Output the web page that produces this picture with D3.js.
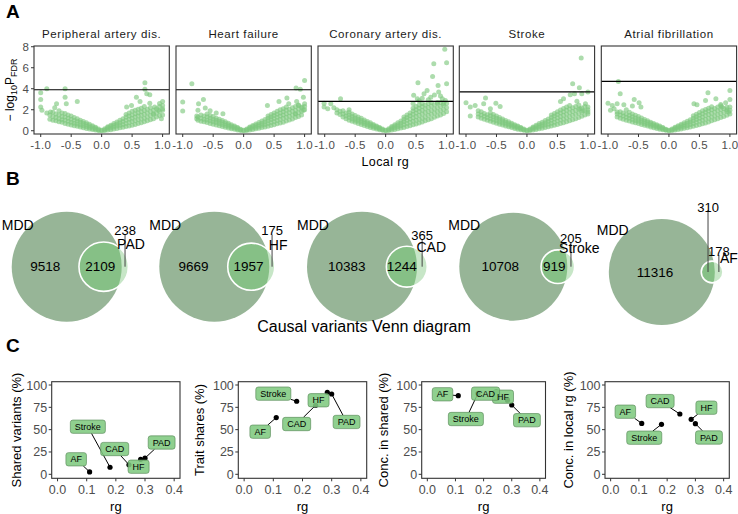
<!DOCTYPE html>
<html><head><meta charset="utf-8">
<script src="https://cdn.jsdelivr.net/npm/d3@7/dist/d3.min.js"></script>
<style>body{margin:0;background:#fff}svg{display:block}</style>
</head><body>
<svg id="c" width="738" height="514"></svg>
<script>
// ---------------- DATA ----------------
// Panel A: local genetic correlation volcano plots
const facetNames = ["Peripheral artery dis.","Heart failure","Coronary artery dis.","Stroke","Atrial fibrillation"];
const fdrLine = [3.9, 3.9, 2.8, 3.7, 4.7];
const xTicksA = [-1.0,-0.5,0.0,0.5,1.0];
const yTicksA = [0,2,4,6,8];

const outPAD = [[-0.9,4.0],[-0.6,4.0],[0.71,4.57],[0.71,3.94],[0.74,3.52],[0.79,3.43],[-1.0,3.62],[-1.0,2.98],[-1.0,2.25],[-0.98,1.94],[-0.6,3.2],[-0.58,2.57],[-0.4,2.79],[-0.74,2.57],[-0.84,1.78],[-0.9,1.68],[0.57,3.2],[0.63,2.79],[0.49,2.41],[0.41,2.25],[1.0,2.79],[1.0,2.41],[1.0,1.94],[0.87,2.25],[0.79,2.63],[0.93,1.94],[0.85,1.62],[0.98,1.14],[-0.77,2.2],[-0.7,1.9],[0.95,2.6]];
const bandPAD = [[-0.85,[1.1,1.5]],[-0.8,[1.0,1.35,1.75]],[-0.75,[0.95,1.25,1.6]],[-0.7,[0.85,1.15,1.5]],[-0.65,[0.8,1.05,1.35,1.7]],[-0.6,[0.7,1.0,1.3,1.65]],[-0.55,[0.62,0.9,1.2,1.5]],[-0.5,[0.55,0.8,1.1,1.4]],[-0.45,[0.48,0.72,1.0,1.25]],[-0.4,[0.42,0.65,0.9,1.15]],[-0.35,[0.35,0.55,0.8,1.0]],[-0.3,[0.28,0.48,0.7,0.88]],[-0.25,[0.22,0.4,0.6,0.76]],[-0.2,[0.16,0.32,0.48,0.62]],[-0.15,[0.11,0.24,0.38,0.48]],[-0.1,[0.06,0.16,0.26,0.34]],[-0.05,[0.02,0.08,0.16]],[0,[0,0.05]],[0.05,[0.02,0.1,0.18]],[0.1,[0.06,0.18,0.3,0.38]],[0.15,[0.1,0.26,0.42,0.52]],[0.2,[0.16,0.35,0.52,0.68]],[0.25,[0.22,0.44,0.64,0.84]],[0.3,[0.28,0.52,0.76,1.0]],[0.35,[0.34,0.6,0.88,1.15]],[0.4,[0.4,0.7,1.0,1.3,1.55]],[0.45,[0.46,0.78,1.1,1.4,1.7]],[0.5,[0.52,0.88,1.2,1.5,1.85]],[0.55,[0.6,0.95,1.3,1.62,1.95]],[0.6,[0.68,1.05,1.4,1.72,2.05]],[0.65,[0.76,1.12,1.48,1.82,2.15]],[0.7,[0.85,1.2,1.58,1.92,2.3]],[0.75,[0.95,1.3,1.68,2.05]],[0.8,[1.05,1.42,1.8,2.2]],[0.85,[1.15,1.55,1.95]],[0.9,[1.3,1.7,2.1]],[0.95,[1.45,1.85,2.3]],[1.0,[1.5,2.1]]];

const outHF = [[-0.85,4.48],[1.0,4.79],[0.86,4.06],[0.93,3.94],[-1.0,2.73],[-1.0,1.87],[-0.74,2.57],[-0.66,2.98],[-0.75,1.94],[-0.63,2.16],[-0.77,1.4],[-0.77,1.14],[-0.34,1.62],[0.39,2.41],[0.58,2.79],[0.71,3.11],[0.74,2.57],[0.98,3.2],[1.0,2.57],[0.87,2.79],[0.96,2.25],[0.85,1.62],[0.98,1.94],[0.9,2.41],[-0.55,1.9],[-0.45,1.7]];
const bandHF = [[-0.75,[1.0,1.3]],[-0.7,[0.9,1.2,1.5]],[-0.65,[0.85,1.1,1.4]],[-0.6,[0.78,1.02,1.3,1.6]],[-0.55,[0.7,0.95,1.2,1.45]],[-0.5,[0.62,0.86,1.1,1.35]],[-0.45,[0.55,0.78,1.0,1.2]],[-0.4,[0.47,0.68,0.9,1.1]],[-0.35,[0.4,0.6,0.8,0.98]],[-0.3,[0.33,0.5,0.68,0.85]],[-0.25,[0.26,0.42,0.58,0.72]],[-0.2,[0.2,0.34,0.46,0.58]],[-0.15,[0.14,0.26,0.36,0.45]],[-0.1,[0.08,0.17,0.25,0.32]],[-0.05,[0.03,0.09,0.15]],[0,[0,0.05]],[0.05,[0.03,0.1,0.17]],[0.1,[0.07,0.18,0.28,0.35]],[0.15,[0.12,0.26,0.4,0.5]],[0.2,[0.18,0.34,0.5,0.64]],[0.25,[0.24,0.42,0.6,0.78]],[0.3,[0.3,0.52,0.72,0.92]],[0.35,[0.36,0.6,0.84,1.06]],[0.4,[0.42,0.7,0.96,1.2,1.4]],[0.45,[0.5,0.78,1.06,1.32,1.55]],[0.5,[0.58,0.88,1.16,1.45,1.7]],[0.55,[0.66,0.98,1.28,1.58,1.85]],[0.6,[0.74,1.08,1.4,1.7,2.0]],[0.65,[0.82,1.18,1.5,1.82,2.1]],[0.7,[0.92,1.28,1.62,1.95,2.25]],[0.75,[1.02,1.38,1.72,2.05]],[0.8,[1.12,1.5,1.85,2.2]],[0.85,[1.25,1.6,1.95,2.3]],[0.9,[1.35,1.72,2.08,2.45]],[0.95,[1.5,1.85,2.2]],[1.0,[2.0,2.3]]];

const outCAD = [[0.97,7.75],[1.0,6.48],[0.79,6.38],[0.77,5.17],[1.0,4.48],[0.53,4.57],[0.86,4.32],[0.68,3.84],[0.87,3.68],[0.46,3.37],[0.63,3.52],[0.74,3.2],[0.52,3.05],[0.93,3.05],[0.98,2.89],[-0.74,3.05],[-1.01,2.63],[-1.01,2.25],[-0.9,2.57],[-0.95,2.1],[-0.85,2.2],[-0.6,2.0],[0.8,3.4],[0.9,3.3],[0.6,3.1],[0.7,2.95],[0.55,2.85],[0.45,2.6],[0.95,2.6],[0.85,2.7]];
const bandCAD = [[-0.8,[1.7,2.0]],[-0.75,[1.55,1.85]],[-0.7,[1.3,1.6,1.9]],[-0.65,[1.15,1.4,1.7]],[-0.6,[1.0,1.25,1.5,1.75]],[-0.55,[0.9,1.12,1.35,1.6]],[-0.5,[0.8,1.0,1.22,1.45]],[-0.45,[0.7,0.9,1.1,1.3]],[-0.4,[0.6,0.8,1.0,1.18]],[-0.35,[0.5,0.68,0.86,1.02]],[-0.3,[0.4,0.58,0.74,0.88]],[-0.25,[0.32,0.48,0.62,0.75]],[-0.2,[0.24,0.38,0.5,0.6]],[-0.15,[0.16,0.28,0.38,0.46]],[-0.1,[0.1,0.18,0.26,0.32]],[-0.05,[0.04,0.1,0.16]],[0,[0,0.05]],[0.05,[0.03,0.1,0.18]],[0.1,[0.07,0.18,0.3,0.4]],[0.15,[0.12,0.28,0.44,0.56]],[0.2,[0.18,0.38,0.58,0.75]],[0.25,[0.25,0.48,0.72,0.92]],[0.3,[0.32,0.6,0.86,1.1,1.3]],[0.35,[0.4,0.7,1.0,1.26,1.5]],[0.4,[0.48,0.8,1.12,1.42,1.7]],[0.45,[0.56,0.9,1.24,1.56,1.88,2.15]],[0.5,[0.64,1.0,1.36,1.7,2.0,2.3]],[0.55,[0.74,1.1,1.48,1.84,2.15,2.45]],[0.6,[0.84,1.2,1.6,1.96,2.3,2.6]],[0.65,[0.94,1.32,1.72,2.1,2.45]],[0.7,[1.05,1.44,1.84,2.22,2.6]],[0.75,[1.15,1.56,1.96,2.35,2.7]],[0.8,[1.28,1.68,2.08,2.48]],[0.85,[1.4,1.8,2.2,2.6]],[0.9,[1.5,1.9,2.3,2.7]],[0.95,[1.65,2.05,2.45]],[1.0,[1.8,2.2,2.6]]];

const outStroke = [[0.89,6.92],[0.75,4.48],[0.86,4.1],[1.0,3.68],[0.71,3.43],[0.78,3.52],[0.9,3.52],[-1.0,2.67],[-0.93,2.25],[-0.93,1.4],[-0.85,2.41],[-0.68,3.11],[-0.71,2.57],[-0.51,2.63],[-0.44,2.32],[0.55,2.79],[0.6,3.05],[0.96,2.57],[1.0,2.25],[1.0,1.78],[0.87,2.1],[-0.8,1.9],[-0.6,2.1],[0.82,2.8],[0.92,1.9]];
const bandStroke = [[-0.8,[1.3,1.6]],[-0.75,[1.2,1.5,1.8]],[-0.7,[1.1,1.38,1.65]],[-0.65,[1.0,1.25,1.52]],[-0.6,[0.9,1.15,1.42,1.68]],[-0.55,[0.8,1.05,1.3,1.55]],[-0.5,[0.72,0.95,1.18,1.4]],[-0.45,[0.62,0.84,1.06,1.25]],[-0.4,[0.54,0.74,0.94,1.12]],[-0.35,[0.45,0.64,0.82,0.98]],[-0.3,[0.37,0.54,0.7,0.85]],[-0.25,[0.3,0.45,0.6,0.72]],[-0.2,[0.22,0.36,0.48,0.58]],[-0.15,[0.15,0.27,0.37,0.45]],[-0.1,[0.09,0.18,0.26,0.32]],[-0.05,[0.04,0.1,0.16]],[0,[0,0.05]],[0.05,[0.03,0.1,0.17]],[0.1,[0.07,0.18,0.28,0.36]],[0.15,[0.12,0.26,0.4,0.52]],[0.2,[0.18,0.35,0.52,0.68]],[0.25,[0.24,0.44,0.64,0.82]],[0.3,[0.3,0.54,0.76,0.98]],[0.35,[0.37,0.63,0.88,1.12]],[0.4,[0.44,0.72,1.0,1.26,1.5]],[0.45,[0.52,0.82,1.12,1.4,1.65]],[0.5,[0.6,0.92,1.24,1.54,1.82]],[0.55,[0.68,1.02,1.36,1.68,1.98]],[0.6,[0.76,1.12,1.48,1.82,2.12]],[0.65,[0.85,1.22,1.6,1.95,2.25]],[0.7,[0.95,1.34,1.72,2.08,2.4]],[0.75,[1.05,1.45,1.84,2.2]],[0.8,[1.15,1.56,1.95,2.32]],[0.85,[1.25,1.66,2.05,2.45]],[0.9,[1.38,1.78,2.16]],[0.95,[1.5,1.9,2.3]],[1.0,[1.6,2.0]]];

const outAF = [[-0.83,4.7],[-0.8,3.52],[-1.0,2.63],[-0.93,2.41],[-0.96,1.94],[-0.85,2.57],[-0.74,2.48],[-0.57,2.98],[-0.49,2.67],[-0.6,2.35],[-0.46,2.25],[-0.85,1.78],[1.0,3.84],[0.64,3.62],[0.77,3.05],[0.6,2.89],[0.41,2.57],[0.46,2.48],[0.93,2.67],[1.0,2.98],[1.0,2.25],[0.87,2.25],[0.98,1.78],[-0.9,2.1],[-0.7,2.0],[0.85,2.5],[0.95,2.0]];
const bandAF = [[-0.85,[1.3,1.6]],[-0.8,[1.2,1.5,1.8]],[-0.75,[1.1,1.4,1.7]],[-0.7,[1.0,1.28,1.58]],[-0.65,[0.92,1.18,1.45,1.75]],[-0.6,[0.84,1.08,1.34,1.6]],[-0.55,[0.76,0.98,1.22,1.48]],[-0.5,[0.68,0.9,1.12,1.35]],[-0.45,[0.6,0.8,1.0,1.22]],[-0.4,[0.52,0.7,0.9,1.08]],[-0.35,[0.44,0.62,0.8,0.96]],[-0.3,[0.36,0.52,0.68,0.82]],[-0.25,[0.29,0.44,0.58,0.7]],[-0.2,[0.22,0.35,0.47,0.57]],[-0.15,[0.15,0.26,0.36,0.44]],[-0.1,[0.09,0.17,0.25,0.31]],[-0.05,[0.04,0.1,0.15]],[0,[0,0.05]],[0.05,[0.03,0.1,0.16]],[0.1,[0.07,0.17,0.27,0.34]],[0.15,[0.12,0.25,0.38,0.48]],[0.2,[0.17,0.33,0.49,0.62]],[0.25,[0.23,0.42,0.6,0.76]],[0.3,[0.29,0.5,0.72,0.9]],[0.35,[0.35,0.6,0.84,1.05]],[0.4,[0.42,0.7,0.96,1.2,1.42]],[0.45,[0.5,0.8,1.08,1.34,1.58]],[0.5,[0.58,0.9,1.2,1.48,1.74]],[0.55,[0.66,1.0,1.32,1.62,1.9]],[0.6,[0.74,1.1,1.44,1.75,2.02]],[0.65,[0.84,1.2,1.55,1.88,2.15]],[0.7,[0.94,1.3,1.66,2.0,2.28]],[0.75,[1.04,1.4,1.78,2.12]],[0.8,[1.14,1.52,1.9,2.25]],[0.85,[1.25,1.64,2.02,2.38]],[0.9,[1.36,1.75,2.12]],[0.95,[1.48,1.86,2.24]],[1.0,[1.6,1.96]]];

// Panel B: causal variant counts
const vennTraits = ["PAD","HF","CAD","Stroke","AF"];
const mddOnly = [9518, 9669, 10383, 10708, 11316];
const sharedCount = [2109, 1957, 1244, 919, 310];
const traitOnly = [238, 175, 365, 205, 178];

// Panel C
const cTraits = ["PAD","HF","CAD","Stroke","AF"];
const rgVals = [0.30, 0.285, 0.245, 0.18, 0.11];
const sharedPct = [18.1, 16.8, 10.7, 7.9, 2.7];
const traitSharePct = [89.9, 91.8, 77.3, 81.8, 63.5];
const concShared = [77.6, 83.0, 92.5, 90.6, 88.0];
const concLocalRg = [56.7, 61.6, 67.5, 56.0, 57.0];
const cYTitles = ["Shared variants (%)","Trait shares (%)","Conc. in shared (%)","Conc. in local rg (%)"];
const xTicksC = [0.0,0.1,0.2,0.3,0.4];
const yTicksC = [0,25,50,75,100];
// repelled label anchors (data units) per plot, order as cTraits
const labRg = [[0.357,0.278,0.196,0.104,0.064],[0.351,0.255,0.18,0.1,0.055],[0.354,0.269,0.207,0.137,0.054],[0.348,0.339,0.175,0.119,0.052]];
const labVal = [[35.6,8.5,28.3,53.3,16.8],[58.6,82.9,56.3,90.3,47.7],[60.6,86.9,90.3,61.9,89.6],[41.2,74.6,82,41,70.1]];

// ---------------- DRAW ----------------
const FONT = "'Liberation Sans', Arial, Helvetica, sans-serif";
const svg = d3.select("#c").style("font-family", FONT);
const GREY = "#4d4d4d", BORDER = "#333333";

function tag(txt, x, y){
  svg.append("text").attr("x",x).attr("y",y).attr("font-size",19).attr("font-weight","bold").text(txt);
}
tag("A",6,18); tag("B",6,185); tag("C",6,352);

// ---- Panel A ----
const aLefts = [34,176,318,459.3,601.3], aW = 135.3, aTop = 46, aBot = 134;
const outs = [outPAD,outHF,outCAD,outStroke,outAF];
const bands = [bandPAD,bandHF,bandCAD,bandStroke,bandAF];
const defs = svg.append("defs");
facetNames.forEach((name,i)=>{
  const L = aLefts[i];
  const x = d3.scaleLinear().domain([-1.11,1.11]).range([L, L+aW]);
  const y = d3.scaleLinear().domain([-0.31,8.07]).range([aBot,aTop]);
  defs.append("clipPath").attr("id","ca"+i).append("rect").attr("x",L).attr("y",aTop).attr("width",aW).attr("height",aBot-aTop);
  const pts = outs[i].concat(bands[i].flatMap(([bx,ys])=>ys.map(v=>[bx,v])));
  const g = svg.append("g").attr("clip-path","url(#ca"+i+")");
  g.selectAll("circle").data(pts).join("circle")
    .attr("cx",d=>x(d[0])).attr("cy",d=>y(d[1])).attr("r",2.5)
    .attr("fill","#7fc97f").attr("fill-opacity",0.64);
  svg.append("line").attr("x1",L).attr("x2",L+aW).attr("y1",y(fdrLine[i])).attr("y2",y(fdrLine[i]))
    .attr("stroke","#000").attr("stroke-width",1.1);
  svg.append("rect").attr("x",L).attr("y",aTop).attr("width",aW).attr("height",aBot-aTop)
    .attr("fill","none").attr("stroke",BORDER).attr("stroke-width",1.1);
  svg.append("text").attr("x",L+aW/2).attr("y",38).attr("text-anchor","middle").attr("font-size",11.5)
    .attr("letter-spacing",0.6).attr("fill","#1a1a1a").text(name);
  xTicksA.forEach(t=>{
    svg.append("line").attr("x1",x(t)).attr("x2",x(t)).attr("y1",aBot).attr("y2",aBot+3).attr("stroke",BORDER);
    svg.append("text").attr("x",x(t)).attr("y",aBot+15).attr("text-anchor","middle").attr("font-size",11.5)
      .attr("letter-spacing",0.3).attr("fill",GREY).text(d3.format(".1f")(t).replace("\u2212","-"));
  });
  if(i===0){
    yTicksA.forEach(t=>{
      svg.append("line").attr("x1",L-3).attr("x2",L).attr("y1",y(t)).attr("y2",y(t)).attr("stroke",BORDER);
      svg.append("text").attr("x",L-5).attr("y",y(t)).attr("dy","0.36em").attr("text-anchor","end").attr("font-size",11.5).attr("fill",GREY).text(t);
    });
  }
});
svg.append("text").attr("x",(aLefts[0]+aLefts[4]+aW)/2).attr("y",166).attr("text-anchor","middle").attr("font-size",12.5).attr("letter-spacing",0.4).text("Local rg");
const yt = svg.append("text").attr("transform","translate(14,90) rotate(-90)").attr("text-anchor","middle").attr("font-size",12);
yt.append("tspan").text("\u2212 log");
yt.append("tspan").attr("font-size",9).attr("dy",3).text("10");
yt.append("tspan").attr("dy",-3).text("P");
yt.append("tspan").attr("font-size",9).attr("dy",3).text("FDR");

// ---- Panel B ----
const vCx = [66.7, 214.3, 362, 513.3, 661.8];
const vCy = [266.7, 266.7, 266.7, 266.7, 272];
const vR = [55, 55, 55, 54, 53];
const outLabDy = [-36, -36, -31, -28.5, -21];
const nameDx = [2.6, 3.3, 4, 4.7, 6];
const nameDy = [-18, -16.7, -15, -13.4, -8.7];
function lens(R,r,d){
  if(d>=R+r) return 0; if(d<=R-r) return Math.PI*r*r;
  const a=r*r*Math.acos((d*d+r*r-R*R)/(2*d*r));
  const b=R*R*Math.acos((d*d+R*R-r*r)/(2*d*R));
  const c=0.5*Math.sqrt((-d+r+R)*(d+r-R)*(d-r+R)*(d+r+R));
  return a+b-c;
}
vennTraits.forEach((tr,i)=>{
  const mddTot = mddOnly[i]+sharedCount[i], trTot = sharedCount[i]+traitOnly[i];
  const rs = d3.scaleSqrt().domain([0,mddTot]).range([0,vR[i]]);
  const R = rs(mddTot), r = rs(trTot);
  const frac = sharedCount[i]/trTot;
  let lo=R-r, hi=R+r;
  for(let k=0;k<60;k++){const m=(lo+hi)/2; if(lens(R,r,m)/(Math.PI*r*r)>frac) lo=m; else hi=m;}
  const d=(lo+hi)/2, cx=vCx[i], cy=vCy[i], sx=cx+d;
  defs.append("clipPath").attr("id","vb"+i).append("circle").attr("cx",cx).attr("cy",cy).attr("r",R);
  svg.append("circle").attr("cx",cx).attr("cy",cy).attr("r",R).attr("fill","#97b597");
  svg.append("circle").attr("cx",sx).attr("cy",cy).attr("r",r).attr("fill","#c7e6c7");
  svg.append("circle").attr("cx",sx).attr("cy",cy).attr("r",r).attr("fill","#86c086").attr("clip-path","url(#vb"+i+")");
  svg.append("circle").attr("cx",sx).attr("cy",cy).attr("r",r).attr("fill","none").attr("stroke","#fff").attr("stroke-width",1.6);
  svg.append("text").attr("x",cx-49).attr("y",cy-37).attr("text-anchor","middle").attr("font-size",14).text("MDD");
  svg.append("text").attr("x",cx+(d-r-R)/2).attr("y",cy).attr("dy","0.35em").attr("text-anchor","middle").attr("font-size",13.5).text(mddOnly[i]);
  const ox = ((sx-r)+(cx+R))/2;
  if(i<4){
    svg.append("text").attr("x",ox).attr("y",cy).attr("dy","0.35em").attr("text-anchor","middle").attr("font-size",13.5).text(sharedCount[i]);
  } else {
    svg.append("line").attr("x1",ox).attr("x2",ox).attr("y1",cy).attr("y2",cy-62).attr("stroke","#444").attr("stroke-width",1);
    svg.append("text").attr("x",ox).attr("y",cy-65).attr("dy","0.35em").attr("text-anchor","middle").attr("font-size",13).text(sharedCount[i]);
  }
  const tx = ((cx+R)+(sx+r))/2;
  svg.append("line").attr("x1",tx).attr("x2",tx).attr("y1",cy).attr("y2",cy+outLabDy[i]+4).attr("stroke","#444").attr("stroke-width",1);
  svg.append("text").attr("x",tx).attr("y",cy+outLabDy[i]).attr("dy","0.35em").attr("text-anchor","middle").attr("font-size",13).text(traitOnly[i]);
  svg.append("text").attr("x",sx+r+nameDx[i]).attr("y",cy+nameDy[i]).attr("text-anchor","middle").attr("font-size",14).text(tr);
});
svg.append("text").attr("x",364).attr("y",332).attr("text-anchor","middle").attr("font-size",16).text("Causal variants Venn diagram");

// ---- Panel C ----
const cBoxes = [[51.7,180],[238.3,366.7],[421.7,545.5],[605,729.3]];
const cTop = 381.7, cBot = 478.3;
const yTitleX = [16.7, 199, 383.3, 568.3];
const cVals = [sharedPct, traitSharePct, concShared, concLocalRg];
cBoxes.forEach(([L,Rx],p)=>{
  const x = d3.scaleLinear().domain([-0.02,0.42]).range([L,Rx]);
  const y = d3.scaleLinear().domain([0,100]).range([474.3,385]);
  svg.append("rect").attr("x",L).attr("y",cTop).attr("width",Rx-L).attr("height",cBot-cTop).attr("fill","none").attr("stroke",BORDER).attr("stroke-width",1.1);
  xTicksC.forEach(t=>{
    svg.append("line").attr("x1",x(t)).attr("x2",x(t)).attr("y1",cBot).attr("y2",cBot+3).attr("stroke",BORDER);
    svg.append("text").attr("x",x(t)).attr("y",cBot+16).attr("text-anchor","middle").attr("font-size",12.5).attr("fill",GREY).text(d3.format(".1f")(t));
  });
  yTicksC.forEach(t=>{
    svg.append("line").attr("x1",L-3).attr("x2",L).attr("y1",y(t)).attr("y2",y(t)).attr("stroke",BORDER);
    svg.append("text").attr("x",L-4.5).attr("y",y(t)).attr("dy","0.36em").attr("text-anchor","end").attr("font-size",12.5).attr("fill",GREY).text(t);
  });
  svg.append("text").attr("x",(L+Rx)/2).attr("y",511).attr("text-anchor","middle").attr("font-size",13).text("rg");
  svg.append("text").attr("transform",`translate(${yTitleX[p]},${(cTop+cBot)/2}) rotate(-90)`).attr("dy","0.35em").attr("text-anchor","middle").attr("font-size",13).text(cYTitles[p]);
  const vals = cVals[p];
  const labs = cTraits.map((t,k)=>({t, px:x(rgVals[k]), py:y(vals[k]), lx:x(labRg[p][k]), ly:y(labVal[p][k])}));
  const gl = svg.append("g");
  const gp = svg.append("g");
  const gb = svg.append("g");
  labs.forEach(o=>{
    const txt = gb.append("text").attr("x",o.lx).attr("y",o.ly).attr("dy","0.35em").attr("text-anchor","middle").attr("font-size",9).text(o.t);
    const w = txt.node().getComputedTextLength()+9, h = 13.3;
    gb.insert("rect","text").attr("x",o.lx-w/2).attr("y",o.ly-h/2).attr("width",w).attr("height",h).attr("rx",2.5)
      .attr("fill","#7fc97f").attr("fill-opacity",0.88).attr("stroke","#5f8f5f").attr("stroke-width",0.7);
    const dx=o.px-o.lx, dy=o.py-o.ly;
    const t = Math.min(dx!==0?(w/2)/Math.abs(dx):Infinity, dy!==0?(h/2)/Math.abs(dy):Infinity);
    if(t<1){
      gl.append("line").attr("x1",o.lx+dx*t).attr("y1",o.ly+dy*t).attr("x2",o.px).attr("y2",o.py).attr("stroke","#000").attr("stroke-width",1);
    }
    gp.append("circle").attr("cx",o.px).attr("cy",o.py).attr("r",2.6).attr("fill","#000");
  });
});
</script>
</body></html>
